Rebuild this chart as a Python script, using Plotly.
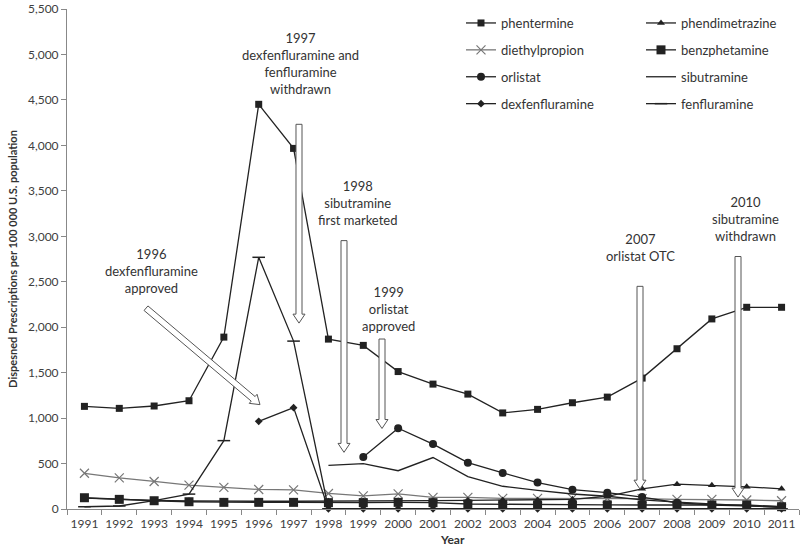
import plotly.graph_objects as go

years = [1991, 1992, 1993, 1994, 1995, 1996, 1997, 1998, 1999, 2000, 2001,
         2002, 2003, 2004, 2005, 2006, 2007, 2008, 2009, 2010, 2011]

phentermine = [1129, 1107, 1133, 1191, 1891, 4452, 3967, 1869, 1800, 1512, 1374,
               1264, 1057, 1096, 1169, 1231, 1440, 1763, 2091, 2219, 2219]
diethylpropion = [393, 342, 303, 262, 238, 215, 210, 171, 145, 167, 128,
                  128, 117, 117, 117, 118, 115, 106, 106, 99, 91]
orlistat = [None, None, None, None, None, None, None, None, 572, 889, 714,
            510, 397, 291, 213, 180, 131, 69, 44, 33, 25]
dexfenfluramine = [None, None, None, None, None, 965, 1115, 3, 3, 3, 3,
                   3, 3, 3, 3, 3, 3, 3, 3, 3, 3]
phendimetrazine = [120, 105, 95, 90, 85, 85, 85, 85, 88, 90, 92,
                   95, 98, 100, 106, 140, 222, 273, 262, 244, 222]
benzphetamine = [124, 106, 91, 80, 73, 73, 73, 70, 70, 73, 70,
                 55, 51, 45, 45, 45, 44, 44, 44, 44, 25]
sibutramine = [None, None, None, None, None, None, None, 481, 499, 421, 566,
               357, 250, 205, 165, 140, 100, 75, 55, 40, 15]
fenfluramine = [25, 33, 91, 164, 752, 2769, 1847, 3, 2, 2, 2,
                2, 2, 2, 2, 2, 2, 2, 2, 2, 2]

y_ticks = [0, 500, 1000, 1500, 2000, 2500, 3000, 3500, 4000, 4500, 5000, 5500]

# canvas geometry (pixels) used to place the notes and block arrows
W, H = 800, 549
L, R, T, B = 67, 1, 6, 40
PW, PH = W - L - R, H - T - B


def px(x, y):
    return (x - L) / PW, (H - B - y) / PH


def block_arrow(x0, y0, x1, y1, shaft=6, head_w=12, head_l=9):
    dx, dy = x1 - x0, y1 - y0
    n = (dx * dx + dy * dy) ** 0.5
    ux, uy = dx / n, dy / n
    vx, vy = -uy, ux
    bx, by = x1 - ux * head_l, y1 - uy * head_l
    s, h = shaft / 2, head_w / 2
    pts = [(x0 + vx * s, y0 + vy * s), (bx + vx * s, by + vy * s),
           (bx + vx * h, by + vy * h), (x1, y1),
           (bx - vx * h, by - vy * h), (bx - vx * s, by - vy * s),
           (x0 - vx * s, y0 - vy * s)]
    path = "M " + " L ".join(f"{px(a, b)[0]:.5f},{px(a, b)[1]:.5f}" for a, b in pts) + " Z"
    return dict(type="path", xref="paper", yref="paper", path=path,
                fillcolor="white", line=dict(color="#555", width=1))


DARK = "#222"
GREY = "#777"

series = [
    ("phentermine", phentermine, dict(symbol="square", size=7, color=DARK), DARK, "legend"),
    ("diethylpropion", diethylpropion, dict(symbol="x-thin", size=9, color=GREY,
                                            line=dict(color=GREY, width=1.2)), GREY, "legend"),
    ("orlistat", orlistat, dict(symbol="circle", size=8, color=DARK), DARK, "legend"),
    ("dexfenfluramine", dexfenfluramine, dict(symbol="diamond", size=6, color=DARK), DARK, "legend"),
    ("phendimetrazine", phendimetrazine, dict(symbol="triangle-up", size=7, color=DARK), DARK, "legend2"),
    ("benzphetamine", benzphetamine, dict(symbol="square", size=9, color=DARK), DARK, "legend2"),
    ("sibutramine", sibutramine, dict(size=1, color=DARK, opacity=0), DARK, "legend2"),
    ("fenfluramine", fenfluramine, dict(symbol="line-ew", size=9, color=DARK,
                                        line=dict(color=DARK, width=1.5)), DARK, "legend2"),
]

fig = go.Figure()
for name, vals, marker, lc, leg in series:
    mode = "lines" if name == "sibutramine" else "lines+markers"
    fig.add_trace(go.Scatter(
        x=years, y=vals, name=name, mode=mode,
        line=dict(color=lc, width=1.3),
        marker=marker, legend=leg, legendgroup=name,
        cliponaxis=False, connectgaps=False,
    ))

notes = [
    ("1997<br>dexfenfluramine and<br>fenfluramine<br>withdrawn", 300, 61),
    ("1998<br>sibutramine<br>first marketed", 357, 201),
    ("1996<br>dexfenfluramine<br>approved", 151, 270),
    ("1999<br>orlistat<br>approved", 388, 308),
    ("2007<br>orlistat OTC", 640, 246),
    ("2010<br>sibutramine<br>withdrawn", 745, 217),
]
annotations = []
for text, x, y in notes:
    ax, ay = px(x, y)
    annotations.append(dict(text=text, x=ax, y=ay, xref="paper", yref="paper",
                            showarrow=False, font=dict(size=13, color="#333"),
                            xanchor="center", yanchor="middle"))
yx, yy = px(452, 549)
annotations.append(dict(text="<b>Year</b>", x=yx, y=yy, xref="paper", yref="paper",
                        showarrow=False, font=dict(size=12, color="#333")))

shapes = [
    block_arrow(146, 307, 260, 404),
    block_arrow(299, 122, 299, 322),
    block_arrow(344, 239, 344, 452),
    block_arrow(382, 338, 382, 428),
    block_arrow(640, 285, 640, 489),
    block_arrow(738, 255, 738, 497),
]

fig.update_layout(
    width=W, height=H,
    margin=dict(l=L, r=R, t=T, b=B),
    plot_bgcolor="white", paper_bgcolor="white",
    font=dict(family="Lato, Open Sans, sans-serif", size=12, color="#404040"),
    annotations=annotations,
    shapes=shapes,
    legend=dict(x=px(461, 0)[0], y=px(0, 5)[1], xanchor="left", yanchor="top",
                bgcolor="rgba(0,0,0,0)", font=dict(size=13, color="#333"),
                tracegroupgap=7, itemwidth=30),
    legend2=dict(x=px(641, 0)[0], y=px(0, 5)[1], xanchor="left", yanchor="top",
                 bgcolor="rgba(0,0,0,0)", font=dict(size=13, color="#333"),
                 tracegroupgap=7, itemwidth=30),
    xaxis=dict(
        range=[1990.5, 2011.5], tickmode="array", tickvals=years,
        ticktext=[str(y) for y in years], ticks="", showgrid=False,
        showline=True, linecolor="#888", linewidth=1, zeroline=False,
        tickfont=dict(size=12), ticklabelstandoff=4,
        minor=dict(tickmode="array", tickvals=[y - 0.5 for y in years] + [2011.5],
                   ticks="outside", ticklen=5, tickcolor="#888", showgrid=False),
    ),
    yaxis=dict(
        range=[0, 5500.5], tickmode="array", tickvals=y_ticks,
        ticktext=[f"{v:,}" for v in y_ticks], ticks="outside", ticklen=5,
        tickcolor="#888", showgrid=False, showline=True, linecolor="#888",
        linewidth=1, zeroline=False, tickfont=dict(size=12),
        ticklabeloverflow="allow",
        title=dict(text="<b>Dispesned Prescriptions per 100 000 U.S. population</b>",
                   font=dict(size=11, color="#333"), standoff=8),
    ),
)

# page body margin would shift the figure by 8px; drop it
fig.write_html("out.html", config={"displayModeBar": False},
               post_script="document.body.style.margin='0px';")
